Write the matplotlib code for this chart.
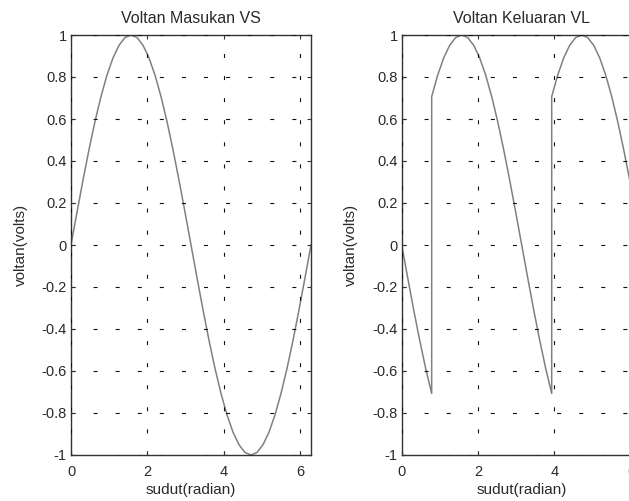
import matplotlib
matplotlib.use("Agg")
import matplotlib.pyplot as plt

plt.rcParams['font.family'] = ['Liberation Sans', 'DejaVu Sans']
plt.rcParams['lines.scale_dashes'] = False

# sample angles (radian)
sudut = [0.000, 0.157, 0.314, 0.471, 0.628, 0.785, 0.942, 1.100, 1.257, 1.414,
         1.571, 1.728, 1.885, 2.042, 2.199, 2.356, 2.513, 2.670, 2.827, 2.985,
         3.142, 3.299, 3.456, 3.613, 3.770, 3.927, 4.084, 4.241, 4.398, 4.555,
         4.712, 4.869, 5.027, 5.184, 5.341, 5.498, 5.655, 5.812, 5.969, 6.126,
         6.283]

# input voltage VS
vs = [0.000, 0.156, 0.309, 0.454, 0.588, 0.707, 0.809, 0.891, 0.951, 0.988,
      1.000, 0.988, 0.951, 0.891, 0.809, 0.707, 0.588, 0.454, 0.309, 0.156,
      0.000, -0.156, -0.309, -0.454, -0.588, -0.707, -0.809, -0.891, -0.951, -0.988,
      -1.000, -0.988, -0.951, -0.891, -0.809, -0.707, -0.588, -0.454, -0.309, -0.156,
      0.000]

# output voltage VL (with jumps at pi/4 and 5pi/4)
sudut_vl = [0.000, 0.157, 0.314, 0.471, 0.628, 0.785,
            0.785, 0.942, 1.100, 1.257, 1.414, 1.571, 1.728, 1.885, 2.042, 2.199,
            2.356, 2.513, 2.670, 2.827, 2.985, 3.142, 3.299, 3.456, 3.613, 3.770, 3.927,
            3.927, 4.084, 4.241, 4.398, 4.555, 4.712, 4.869, 5.027, 5.184, 5.341,
            5.498, 5.655, 5.812, 5.969, 6.126, 6.283]
vl = [0.000, -0.156, -0.309, -0.454, -0.588, -0.707,
      0.707, 0.809, 0.891, 0.951, 0.988, 1.000, 0.988, 0.951, 0.891, 0.809,
      0.707, 0.588, 0.454, 0.309, 0.156, 0.000, -0.156, -0.309, -0.454, -0.588, -0.707,
      0.707, 0.809, 0.891, 0.951, 0.988, 1.000, 0.988, 0.951, 0.891, 0.809,
      0.707, 0.588, 0.454, 0.309, 0.156, 0.000]

xticks = [0, 2, 4, 6]
yticks = [-1, -0.8, -0.6, -0.4, -0.2, 0, 0.2, 0.4, 0.6, 0.8, 1]
ytick_labels = ['-1', '-0.8', '-0.6', '-0.4', '-0.2', '0', '0.2', '0.4', '0.6', '0.8', '1']
titles = ['Voltan Masukan VS', 'Voltan Keluaran VL']
xlabel = 'sudut(radian)'
ylabel = 'voltan(volts)'

W, H = 629, 501
fig = plt.figure(figsize=(W / 100, H / 100), dpi=100)
fig.patch.set_facecolor('white')

axw = 240 / W
axh = 420 / H
bottom = (H - 455) / H
ax1 = fig.add_axes([71 / W, bottom, axw, axh])
ax2 = fig.add_axes([401.7 / W, bottom, axw, axh])

txtc = '#2a2a2a'
for ax, xs, ys, t in [(ax1, sudut, vs, titles[0]), (ax2, sudut_vl, vl, titles[1])]:
    ax.plot(xs, ys, color='#808080', linewidth=1.1)
    ax.set_xlim(0, 6.2832)
    ax.set_ylim(-1, 1)
    ax.set_xticks(xticks)
    ax.set_xticklabels([str(v) for v in xticks])
    ax.set_yticks(yticks)
    ax.set_yticklabels(ytick_labels)
    ax.grid(True, color='#111111', linestyle=(0, (2.9, 13.0)), linewidth=0.8)
    ax.set_axisbelow(False)
    for s in ax.spines.values():
        s.set_color('#333333')
        s.set_linewidth(1.0)
    ax.tick_params(direction='in', length=3, width=0.8, color='#333333',
                   top=True, right=True, labelsize=10.5, labelcolor=txtc)
    ax.tick_params(axis='x', pad=7)
    ax.tick_params(axis='y', pad=3)
    ax.set_title(t, fontsize=11.5, color=txtc, pad=9)
    ax.set_xlabel(xlabel, fontsize=11, color=txtc, labelpad=3)
    ax.set_ylabel(ylabel, fontsize=11, color=txtc, labelpad=10)

fig.savefig('out.png', dpi=100, facecolor='white')
